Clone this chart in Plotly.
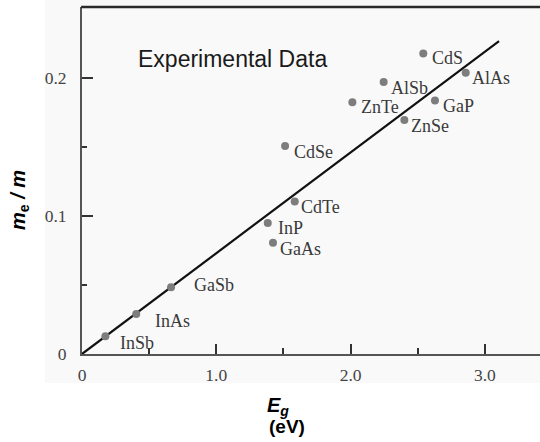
import plotly.graph_objects as go

# Data
materials = ["InSb", "InAs", "GaSb", "InP", "GaAs", "CdTe", "CdSe",
             "ZnTe", "AlSb", "CdS", "ZnSe", "GaP", "AlAs"]
band_gap = [0.174, 0.404, 0.663, 1.383, 1.422, 1.584, 1.512,
            2.013, 2.246, 2.541, 2.400, 2.628, 2.857]
mass_ratio = [0.0128, 0.0290, 0.0483, 0.0948, 0.0806, 0.1105, 0.1507,
              0.1824, 0.1970, 0.2177, 0.1695, 0.1836, 0.2036]
fit_x = [0.0, 3.105]
fit_y = [0.0, 0.2266]

x_tick_vals = [0, 1, 2, 3]
x_tick_text = ["0", "1.0", "2.0", "3.0"]
y_tick_vals = [0, 0.1, 0.2]
y_tick_text = ["0", "0.1", "0.2"]

# label pixel offsets (styling)
label_offsets = {
    "InSb": (14, 7), "InAs": (18, 7), "GaSb": (22, -2), "InP": (9, 5),
    "GaAs": (6, 6), "CdTe": (5, 6), "CdSe": (8, 6), "ZnTe": (8, 5),
    "AlSb": (6, 6), "CdS": (8, 5), "ZnSe": (6, 6), "GaP": (7, 6),
    "AlAs": (5, 5),
}

SERIF = "Liberation Serif, Times New Roman, serif"
SANS = "Liberation Sans, Arial, sans-serif"

# plot area spans window x 82..540, y 7..354
PX0, PW, PY1, PH = 82, 458, 354, 347


def px(xpix):
    return (xpix - PX0) / PW


def py(ypix):
    return (PY1 - ypix) / PH


fig = go.Figure()
fig.add_trace(go.Scatter(x=fit_x, y=fit_y, mode="lines",
                         line=dict(color="#111111", width=2.2),
                         hoverinfo="skip", showlegend=False))
fig.add_trace(go.Scatter(x=band_gap, y=mass_ratio, mode="markers",
                         marker=dict(color="#7d7d7d", size=8),
                         showlegend=False))

annotations = []
for name, xv, yv in zip(materials, band_gap, mass_ratio):
    dx, dy = label_offsets[name]
    annotations.append(dict(x=xv, y=yv, xref="x", yref="y", text=name,
                            showarrow=False, xanchor="left", yanchor="middle",
                            xshift=dx - 1, yshift=-dy,
                            font=dict(family=SERIF, size=18, color="#3a3a3a")))

annotations.append(dict(x=px(136), y=py(59), xref="paper", yref="paper",
                        text="Experimental Data", showarrow=False,
                        xanchor="left", yanchor="middle",
                        font=dict(family=SANS, size=23, color="#1a1a1a")))
annotations.append(dict(x=px(19), y=py(200), xref="paper", yref="paper",
                        text="<b><i>m</i></b><sub><b>e</b></sub><b><i> / m</i></b>",
                        showarrow=False, textangle=-90,
                        xanchor="center", yanchor="middle",
                        font=dict(family=SANS, size=20, color="#000000")))
annotations.append(dict(x=px(278), y=py(406), xref="paper", yref="paper",
                        text="<b><i>E</i></b><sub><b><i>g</i></b></sub>",
                        showarrow=False, xanchor="center", yanchor="middle",
                        font=dict(family=SANS, size=20, color="#000000")))
annotations.append(dict(x=px(287), y=py(427), xref="paper", yref="paper",
                        text="<b>(eV)</b>",
                        showarrow=False, xanchor="center", yanchor="middle",
                        font=dict(family=SANS, size=19, color="#000000")))

shapes = [
    dict(type="rect", xref="paper", yref="paper", layer="below",
         x0=px(45), x1=1.0, y0=py(383), y1=py(0),
         fillcolor="#f9f9f9", line=dict(width=0)),
    dict(type="line", xref="paper", yref="paper", x0=-0.002, x1=1.0, y0=1.0, y1=1.0,
         line=dict(color="#2a2a2a", width=2.5)),
]

fig.update_layout(
    width=540, height=442,
    margin=dict(l=82, r=0, t=7, b=88),
    paper_bgcolor="#ffffff",
    plot_bgcolor="#ece8ec",
    annotations=annotations,
    shapes=shapes,
    xaxis=dict(range=[0, 3.41], showgrid=False, zeroline=False,
               showline=True, linecolor="#555555", linewidth=2,
               ticks="inside", ticklen=10, tickwidth=1.5, tickcolor="#333333",
               tickvals=x_tick_vals, ticktext=x_tick_text,
               minor=dict(ticks="inside", dtick=0.5, ticklen=6, tickwidth=1.5,
                          tickcolor="#333333", showgrid=False),
               ticklabelstandoff=4,
               tickfont=dict(family=SERIF, size=17.5, color="#444444")),
    yaxis=dict(range=[0, 0.2513], showgrid=False, zeroline=False,
               showline=True, linecolor="#555555", linewidth=2,
               ticks="inside", ticklen=11, tickwidth=1.5, tickcolor="#333333",
               tickvals=y_tick_vals, ticktext=y_tick_text,
               minor=dict(ticks="inside", tickvals=[0.05, 0.15], ticklen=5,
                          tickwidth=1.5, tickcolor="#333333", showgrid=False),
               ticklabelstandoff=10,
               tickfont=dict(family=SERIF, size=17.5, color="#444444")),
)

fig.write_html(
    "out.html",
    config={"displayModeBar": False},
    post_script="document.body.style.margin='0';document.body.style.overflow='hidden';",
)
